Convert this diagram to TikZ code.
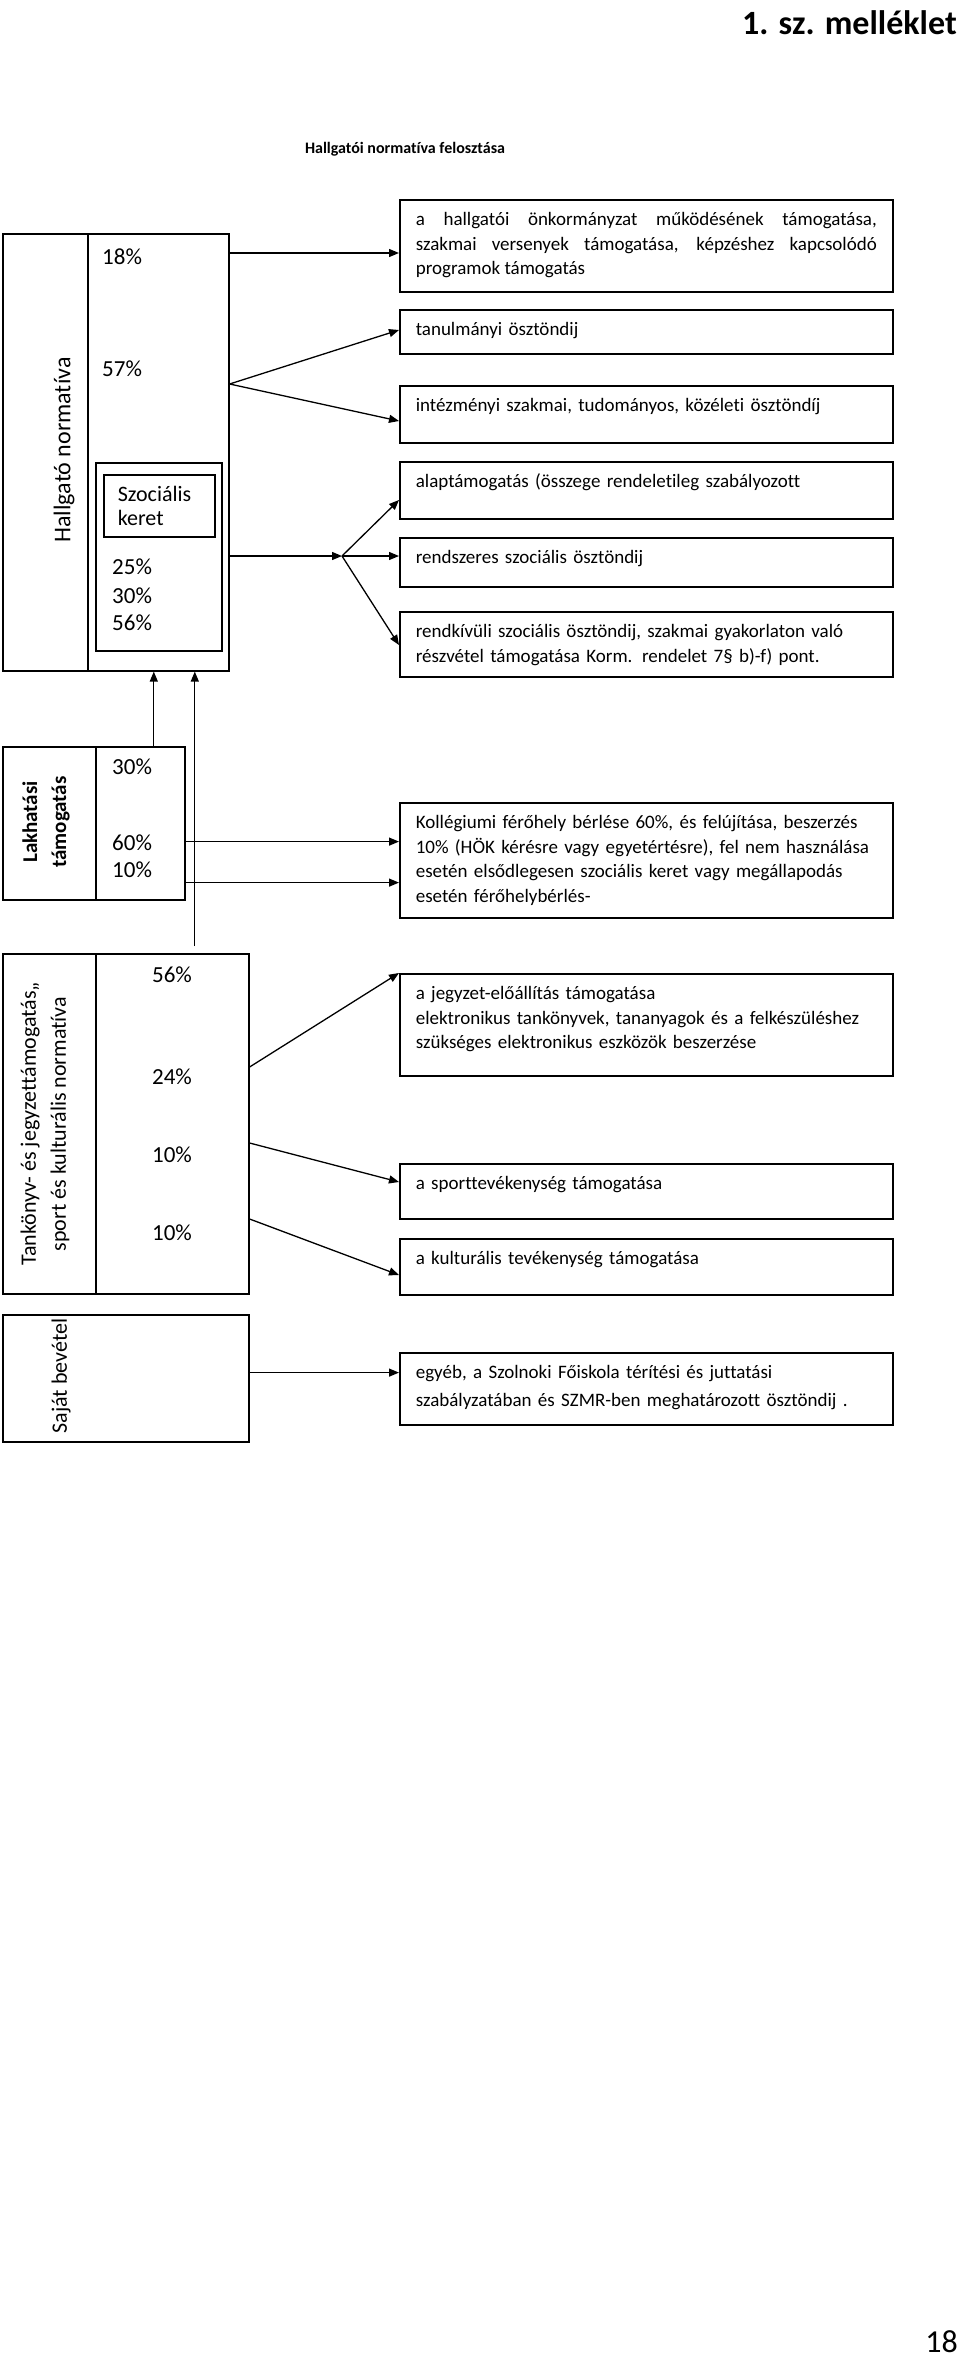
\documentclass[tikz,border=0pt]{standalone}
\usepackage{fontspec}
\setmainfont{Carlito}[Ligatures=NoCommon]
\usepackage{tikz}
\usetikzlibrary{arrows.meta,positioning,calc}

\begin{document}
\begin{tikzpicture}[
    x=1pt,y=-1pt,
    >=Latex,
    cell/.style={draw,line width=1.6pt,anchor=north west,inner sep=0pt},
    target/.style={draw,line width=1.6pt,anchor=north west,inner xsep=16pt,inner ysep=0pt,
      text width=461pt,align=left,text height=26pt,text depth=#1-26pt,
      font=\fontsize{19}{24.5}\selectfont},
    pct/.style={font=\fontsize{23}{28}\selectfont,inner sep=0pt},
    side/.style={rotate=90,inner sep=0pt,align=center},
    link/.style={-{Triangle[length=10pt,width=8pt]},line width=1.3pt}
  ]
  \path[fill=white] (0,0) rectangle (960,2358);
  %% Page header, title and page number
  \node[anchor=base east,inner sep=0pt,font=\fontsize{34}{40}\selectfont\bfseries] (mell) at (957,35) {1. sz. melléklet};
  \node[inner sep=0pt,font=\fontsize{16}{19}\selectfont\bfseries] (cim) at (405,149) {Hallgatói normatíva felosztása};
  \node[anchor=base east,inner sep=0pt,font=\fontsize{32}{38}\selectfont] (oldal) at (958,2352) {18};
  %% Hallgatói normatíva
  \node[cell,minimum width=85pt,minimum height=437pt] (hn) at (2,233) {};
  \node[cell,minimum width=141pt,minimum height=437pt] (hp) at (87,233) {};
  \node[side,font=\fontsize{24}{28}\selectfont] (hnt) at (64,450) {Hallgató normatíva};
  \node[pct,anchor=west] (p18) at (102,257) {18\%};
  \node[pct,anchor=west] (p57) at (102,369) {57\%};
  \node[cell,minimum width=126pt,minimum height=188pt] (szk) at (95,462) {};
  \node[cell,minimum width=111pt,minimum height=62pt,inner xsep=14pt,text width=83pt,align=left,
    font=\fontsize{22}{24}\selectfont] (szr) at (103,474) {Szociális\\keret};
  \node[pct,anchor=west] (s25) at (112,567) {25\%};
  \node[pct,anchor=west] (s30) at (112,596) {30\%};
  \node[pct,anchor=west] (s56) at (112,623) {56\%};
  \node[target=92pt,align=justify] (onk) at (399,199) {a hallgatói önkormányzat működésének támogatása,\linebreak szakmai versenyek támogatása, képzéshez kapcsolódó\linebreak programok támogatás};
  \node[target=44pt] (tan) at (399,309) {tanulmányi ösztöndij};
  \node[target=57pt] (int) at (399,385) {intézményi szakmai, tudományos, közéleti ösztöndíj};
  \node[target=57pt] (alap) at (399,461) {alaptámogatás (összege rendeletileg szabályozott};
  \node[target=49pt] (rsz) at (399,537) {rendszeres szociális ösztöndij};
  \node[target=65pt] (rkv) at (399,611) {rendkívüli szociális ösztöndij, szakmai gyakorlaton való\\részvétel támogatása Korm. rendelet 7§ b)-f) pont.};
  %% Lakhatási támogatás
  \node[cell,minimum width=93pt,minimum height=153pt] (ln) at (2,746) {};
  \node[cell,minimum width=89pt,minimum height=153pt] (lp) at (95,746) {};
  \node[side,font=\fontsize{21}{29}\selectfont\bfseries] (lnt) at (46,822) {Lakhatási\\támogatás};
  \node[pct,anchor=west] (l30) at (112,767) {30\%};
  \node[pct,anchor=west] (l60) at (112,843) {60\%};
  \node[pct,anchor=west] (l10) at (112,870) {10\%};
  \node[target=115pt] (kol) at (399,802) {Kollégiumi férőhely bérlése 60\%, és felújítása, beszerzés\\10\% (HÖK kérésre vagy egyetértésre), fel nem használása\\esetén elsődlegesen szociális keret vagy megállapodás\\esetén férőhelybérlés-};
  %% Tankönyv-, sport és kulturális normatíva
  \node[cell,minimum width=93pt,minimum height=340pt] (tn) at (2,953) {};
  \node[cell,minimum width=153pt,minimum height=340pt] (tp) at (95,953) {};
  \node[side,font=\fontsize{22}{30}\selectfont] (tnt) at (45,1124) {Tankönyv- és jegyzettámogatás,,\\sport és kulturális normatíva};
  \node[pct] (t56) at (172,975) {56\%};
  \node[pct] (t24) at (172,1077) {24\%};
  \node[pct] (t10a) at (172,1155) {10\%};
  \node[pct] (t10b) at (172,1233) {10\%};
  \node[target=102pt] (jeg) at (399,973) {a jegyzet-előállítás támogatása\\elektronikus tankönyvek, tananyagok és a felkészüléshez\\szükséges elektronikus eszközök beszerzése};
  \node[target=55pt] (spo) at (399,1163) {a sporttevékenység támogatása};
  \node[target=56pt] (kul) at (399,1238) {a kulturális tevékenység támogatása};
  %% Saját bevétel
  \node[cell,minimum width=246pt,minimum height=127pt] (sb) at (2,1314) {};
  \node[side,font=\fontsize{22}{26}\selectfont] (sbt) at (61,1376) {Saját bevétel};
  \node[target=72pt,font=\fontsize{19}{27.5}\selectfont] (egy) at (399,1352) {egyéb, a Szolnoki Főiskola térítési és juttatási\\szabályzatában és SZMR-ben meghatározott ösztöndij .};
  %% Connectors
  \coordinate (br) at (342,556);
  \draw[link] ([yshift=-20pt]hp.north east) -- ([yshift=-20pt]hp.north east -| onk.west);
  \draw[link] ([yshift=-151pt]hp.north east) -- ([yshift=-21pt]tan.north west);
  \draw[link] ([yshift=-151pt]hp.north east) -- ([yshift=-36pt]int.north west);
  \draw[link] ([yshift=-323pt]hp.north east) -- (br);
  \draw[link] (br) -- ([yshift=-39pt]alap.north west);
  \draw[link] (br) -- (br -| rsz.west);
  \draw[link] (br) -- ([yshift=-34pt]rkv.north west);
  \draw[link] ([xshift=13.5pt]lp.north) -- ([xshift=13.5pt]lp.north |- hp.south);
  \draw[link,shorten <=7pt] ([xshift=22.5pt]tp.north) -- ([xshift=22.5pt]tp.north |- hp.south);
  \draw[link] ([yshift=59pt]lp.south east) -- ([yshift=59pt]lp.south east -| kol.west);
  \draw[link] ([yshift=18pt]lp.south east) -- ([yshift=18pt]lp.south east -| kol.west);
  \draw[link] ([yshift=-114pt]tp.north east) -- (jeg.north west);
  \draw[link] ([yshift=-190pt]tp.north east) -- ([yshift=-19pt]spo.north west);
  \draw[link] ([yshift=-266pt]tp.north east) -- ([yshift=-37pt]kul.north west);
  \draw[link] ([yshift=70pt]sb.south east) -- ([yshift=70pt]sb.south east -| egy.west);
\end{tikzpicture}
\end{document}
